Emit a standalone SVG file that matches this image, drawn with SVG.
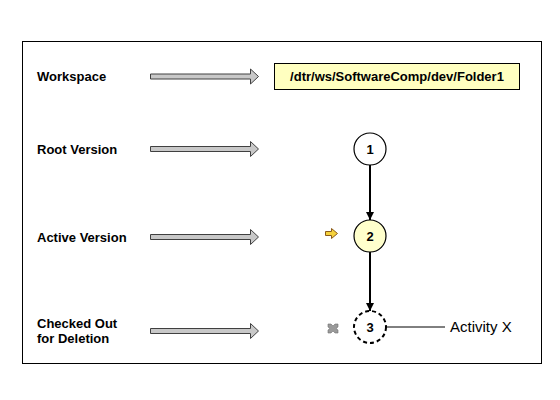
<svg xmlns="http://www.w3.org/2000/svg" width="560" height="400" viewBox="0 0 560 400">
<style>
.lbl{font-family:"Liberation Sans",Arial,sans-serif;font-size:13px;font-weight:bold;fill:#000}
.num{font-family:"Liberation Sans",Arial,sans-serif;font-size:13px;font-weight:bold;fill:#000;text-anchor:middle}
.reg{font-family:"Liberation Sans",Arial,sans-serif;font-size:15px;fill:#000}
.blk{fill:#c8c8c8;stroke:#404040;stroke-width:1}
.node{stroke:#000;stroke-width:1.2}
.conn{stroke:#000;stroke-width:2;fill:none}
</style>
<defs>
<path id="barrow" class="blk" d="M0,-2.5 H100 V-7.5 L108,0 L100,7.5 V2.5 H0 Z"/>
<marker id="ah" viewBox="0 0 8 8" refX="8" refY="4" markerWidth="8" markerHeight="8" markerUnits="userSpaceOnUse" orient="auto">
<path d="M0,0 L8,4 L0,8 Z" fill="#000"/>
</marker>
</defs>
<rect x="0" y="0" width="560" height="400" fill="#fff"/>
<rect x="22.5" y="41.5" width="519" height="322" fill="#fff" stroke="#000" stroke-width="1"/>

<g id="labels">
<text class="lbl" x="37" y="81">Workspace</text>
<text class="lbl" x="37" y="154">Root Version</text>
<text class="lbl" x="37" y="242">Active Version</text>
<text class="lbl" x="37" y="328">Checked Out</text>
<text class="lbl" x="37" y="343">for Deletion</text>
</g>

<g id="block-arrows">
<use href="#barrow" x="150.5" y="76.5"/>
<use href="#barrow" x="150.5" y="149"/>
<use href="#barrow" x="150.5" y="237"/>
<use href="#barrow" x="150.5" y="331"/>
</g>

<g id="workspace-box">
<rect x="274.5" y="63.5" width="245" height="26" fill="#ffffc0" stroke="#000" stroke-width="1"/>
<text class="num" x="397" y="81">/dtr/ws/SoftwareComp/dev/Folder1</text>
</g>

<g id="connectors">
<line class="conn" x1="370" y1="165" x2="370" y2="220" marker-end="url(#ah)"/>
<line class="conn" x1="370" y1="252" x2="370" y2="311" marker-end="url(#ah)"/>
<line x1="386" y1="327" x2="445" y2="327" stroke="#000" stroke-width="1"/>
</g>

<g id="node1">
<circle class="node" cx="370" cy="149" r="16" fill="#fff"/>
<text class="num" x="370" y="154">1</text>
</g>

<g id="node2">
<circle class="node" cx="370" cy="236" r="16" fill="#ffffcc"/>
<text class="num" x="370" y="241">2</text>
</g>

<g id="node3">
<circle cx="370" cy="327" r="16" fill="#fff" stroke="#000" stroke-dasharray="4,3" stroke-width="2"/>
<text class="num" x="370" y="332">3</text>
</g>

<g id="active-icon">
<path d="M325.5,231.5 H331.5 V228.5 L337.5,233.5 L331.5,238.5 V235.5 H325.5 Z" fill="#f5d23c" stroke="#8a5a1a" stroke-width="1"/>
</g>

<g id="delete-icon">
<path d="M328,324 L331,324 L333,326 L335,324 L338,324 L338,327 L336,328.5 L338,330 L338,333 L335,333 L333,331 L331,333 L328,333 L328,330 L330,328.5 L328,327 Z" fill="#9a9a9a" stroke="#707070" stroke-width="0.6"/>
</g>

<g id="activity">
<text class="reg" x="450" y="332">Activity X</text>
</g>
</svg>
